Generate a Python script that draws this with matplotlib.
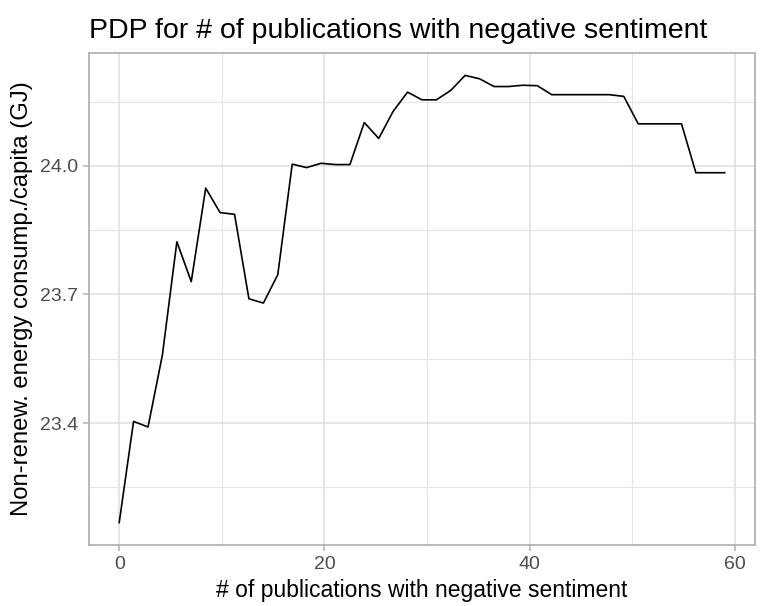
import matplotlib
matplotlib.use('Agg')
import matplotlib.pyplot as plt
from matplotlib.ticker import FixedLocator

plt.rcParams['font.family'] = ['Liberation Sans', 'DejaVu Sans']

# partial dependence values
n_pub = [0.00, 1.40, 2.81, 4.21, 5.62, 7.02, 8.43, 9.83, 11.24, 12.64,
         14.05, 15.45, 16.86, 18.26, 19.67, 21.07, 22.48, 23.88, 25.29, 26.69,
         28.10, 29.50, 30.90, 32.31, 33.71, 35.12, 36.52, 37.93, 39.33, 40.74,
         42.14, 43.55, 44.95, 46.36, 47.76, 49.17, 50.57, 51.98, 53.38, 54.79,
         56.19, 57.60, 59.00]
energy = [23.168, 23.404, 23.391, 23.559, 23.823, 23.730, 23.948, 23.891, 23.887, 23.690,
          23.680, 23.746, 24.004, 23.996, 24.006, 24.003, 24.003, 24.101, 24.064, 24.127,
          24.172, 24.154, 24.154, 24.176, 24.211, 24.203, 24.185, 24.185, 24.188, 24.187,
          24.166, 24.166, 24.166, 24.166, 24.166, 24.162, 24.098, 24.098, 24.098, 24.098,
          23.984, 23.984, 23.984]

x_ticks = [0, 20, 40, 60]
x_minor = [10, 30, 50]
y_ticks = [23.4, 23.7, 24.0]
y_minor = [23.25, 23.55, 23.85, 24.15]

fig = plt.figure(figsize=(7.6, 6.06), dpi=100)
ax = fig.add_axes([0.117, 0.1007, 0.8764, 0.8118])

ax.plot(n_pub, energy, color='black', lw=1.2)

xr = max(n_pub) - min(n_pub)
yr = max(energy) - min(energy)
ax.set_xlim(min(n_pub) - 0.05 * xr, max(n_pub) + 0.05 * xr)
ax.set_ylim(min(energy) - 0.05 * yr, max(energy) + 0.05 * yr)

ax.xaxis.set_major_locator(FixedLocator(x_ticks))
ax.xaxis.set_minor_locator(FixedLocator(x_minor))
ax.yaxis.set_major_locator(FixedLocator(y_ticks))
ax.yaxis.set_minor_locator(FixedLocator(y_minor))
ax.set_yticklabels(['%.1f' % v for v in y_ticks])

ax.grid(which='major', color='#DEDEDE', lw=1.1)
ax.grid(which='minor', color='#E6E6E6', lw=0.8)
ax.set_axisbelow(True)
for s in ax.spines.values():
    s.set_color('#B3B3B3')
    s.set_linewidth(1.3)
ax.tick_params(which='major', length=4, color='#B3B3B3', width=1.1,
               labelsize=14, labelcolor='#4D4D4D', pad=4)
ax.tick_params(which='minor', length=0)

ax.set_xlabel('# of publications with negative sentiment', fontsize=16.5, labelpad=4)
ax.set_ylabel('Non-renew. energy consump./capita (GJ)', fontsize=17.2, labelpad=5)
ax.set_title('PDP for # of publications with negative sentiment', fontsize=20.5,
             loc='left', pad=11)

fig.savefig('out.png', dpi=100)
